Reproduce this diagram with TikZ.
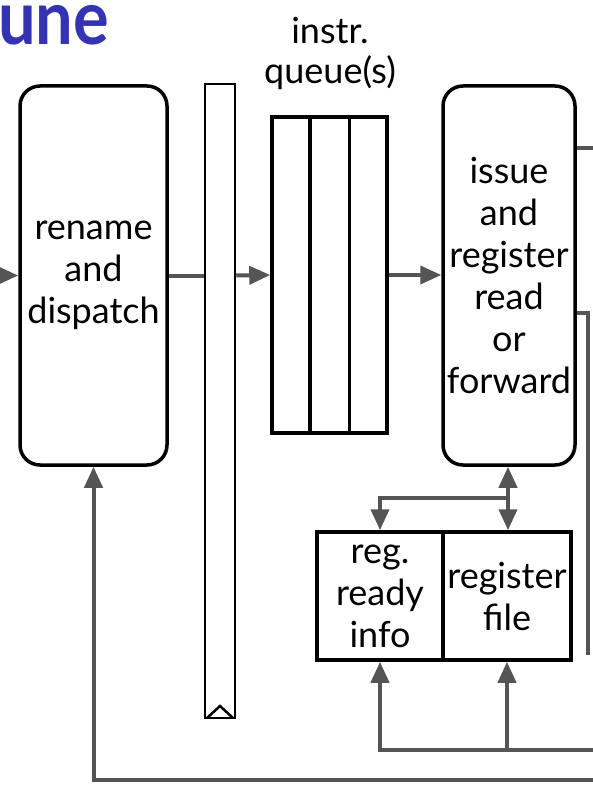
\documentclass[tikz,border=0pt]{standalone}
\usepackage{fontspec}
\usepackage{graphicx}
\setmainfont{Lato}
\usetikzlibrary{arrows.meta,calc}
\definecolor{titleblue}{RGB}{51,51,180}
\definecolor{wiregray}{RGB}{85,85,85}
\begin{document}
\begin{tikzpicture}[x=1pt,y=-1pt,
  box/.style={draw=black,line width=3.5pt,inner sep=0pt,align=center,font=\fontsize{36}{42}\selectfont},
  rbox/.style={box,rounded corners=20pt},
  wire/.style={draw=wiregray,line width=4pt},
  arr/.style={wire,-{Triangle[width=18pt,length=21pt]}},
  darr/.style={wire,{Triangle[width=18pt,length=21pt]}-{Triangle[width=18pt,length=21pt]}},
  lbl/.style={align=center,inner sep=0pt,font=\fontsize{36}{40}\selectfont}
]
\useasboundingbox (0,0) rectangle (592,805);
% title
\node[anchor=base west,inner sep=0pt,text=titleblue,font=\fontsize{75}{75}\selectfont\bfseries] (title) at (-2,45) {\scalebox{0.89}[1]{une}};
% boxes
\node[rbox,minimum width=147pt,minimum height=379pt] (rename) at (93.5,275.5) {rename\\and\\dispatch};
\node[draw=black,line width=2.5pt,minimum width=30pt,minimum height=634pt,inner sep=0pt] (bar) at (220,401) {};
\node[box,minimum width=115pt,minimum height=316pt] (queue) at (329.5,275) {};
\draw[line width=3.5pt] ($(queue.north west)!1/3!(queue.north east)$) -- ($(queue.south west)!1/3!(queue.south east)$);
\draw[line width=3.5pt] ($(queue.north west)!2/3!(queue.north east)$) -- ($(queue.south west)!2/3!(queue.south east)$);
\node[lbl] (qlabel) at (330,53) {instr.\\queue(s)};
\node[rbox,minimum width=132pt,minimum height=379pt] (issue) at (509,275.5) {issue\\and\\register\\read\\or\\forward};
\node[box,minimum width=126pt,minimum height=128pt] (ready) at (380,596) {reg.\\ready\\info};
\node[box,minimum width=128pt,minimum height=128pt] (regfile) at (507,596) {register\\file};
% clock triangle
\draw[line width=2.5pt,line join=miter] (207,718) -- (220,706) -- (233,718);
% coordinates
\coordinate (inL) at (0,275.5);
\coordinate (outTop) at (600,148);
\coordinate (outMid) at (588,313);
\coordinate (outMidEnd) at (588,655);
\coordinate (jn) at (508,498);
\coordinate (bot1) at (600,750);
\coordinate (bot2) at (600,780);
% connectors
\draw[arr] (inL) -- (rename.west);
\draw[wire] (rename.east) -- (bar.west |- rename.east);
\draw[arr] (bar.east |- rename.east) -- (queue.west);
\draw[arr] (queue.east) -- (issue.west |- queue.east);
\draw[wire] (issue.east |- outTop) -- (outTop);
\draw[wire] (issue.east |- outMid) -- (outMid) -- (outMidEnd);
\draw[darr] (issue.south -| jn) -- (regfile.north -| jn);
\draw[arr] (jn) -| (ready.north);
\draw[arr] (bot1) -| (ready.south);
\draw[arr] (regfile.south |- bot1) -- (regfile.south);
\draw[arr] (bot2) -| (rename.south);
\end{tikzpicture}
\end{document}
